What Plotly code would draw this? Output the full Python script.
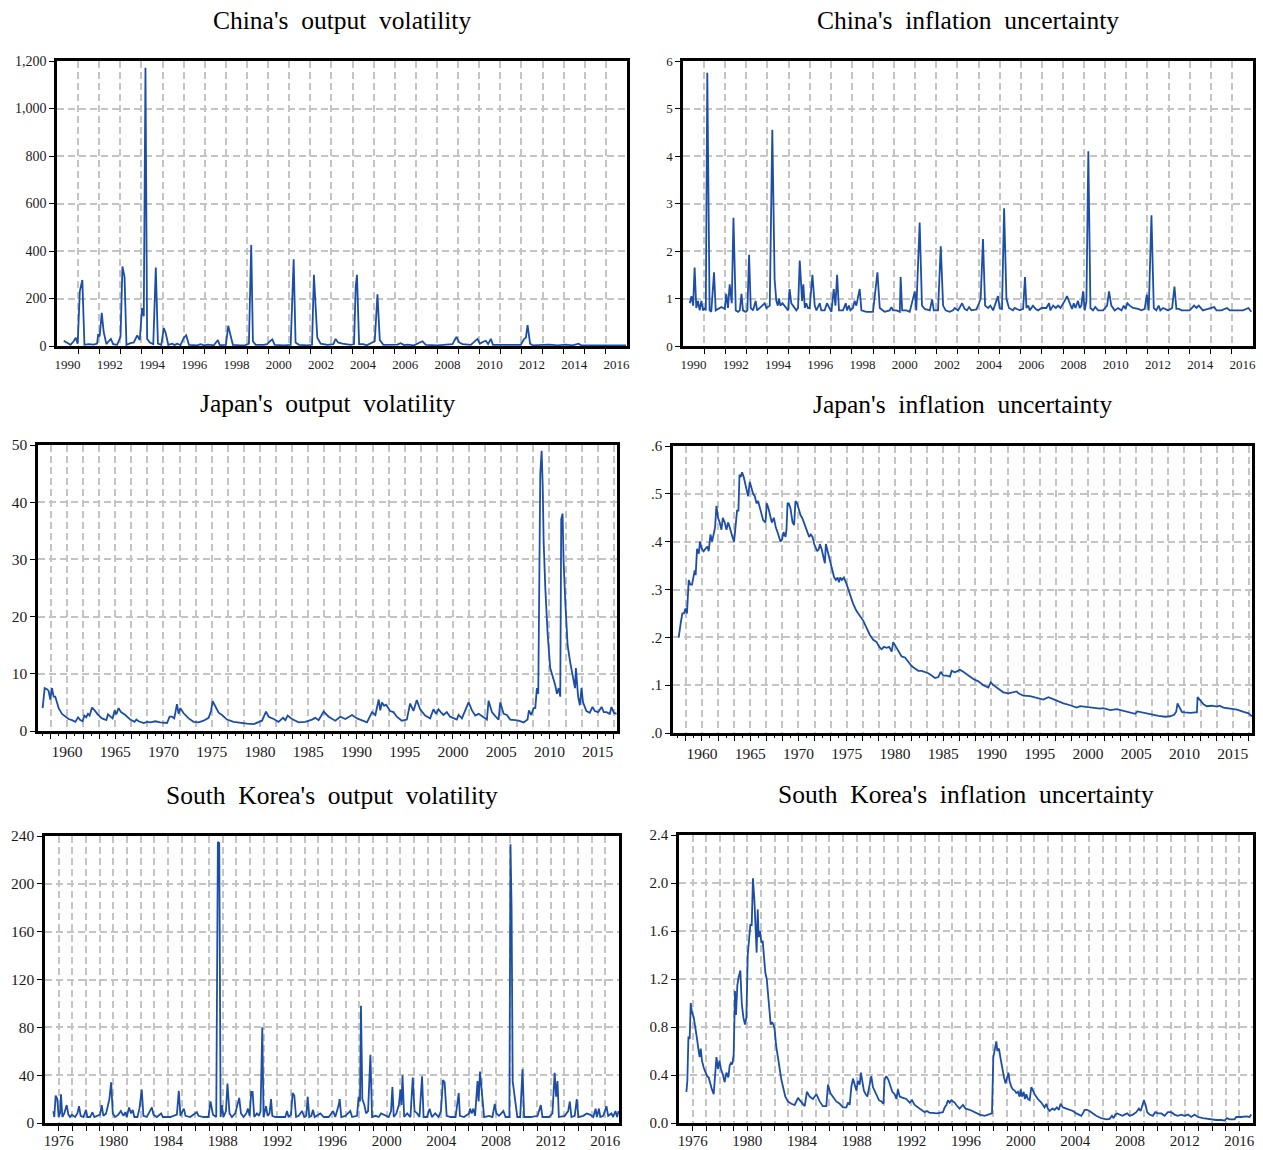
import plotly.graph_objects as go

# ---------------- data (decimal years) ----------------
china_out_year = [
    1990.32, 1990.48, 1990.64, 1990.79, 1990.89, 1990.98, 1991.08, 1991.20, 1991.30, 1991.50,
    1991.74, 1991.90, 1991.95, 1992.02, 1992.12, 1992.21, 1992.34, 1992.45, 1992.55, 1992.66,
    1992.85, 1993.01, 1993.10, 1993.20, 1993.29, 1993.48, 1993.64, 1993.80, 1993.92, 1994.03,
    1994.11, 1994.19, 1994.27, 1994.40, 1994.56, 1994.68, 1994.78, 1994.94, 1995.06, 1995.15,
    1995.27, 1995.46, 1995.57, 1995.69, 1995.85, 1996.01, 1996.12, 1996.25, 1996.64, 1996.80,
    1996.96, 1997.15, 1997.43, 1997.62, 1997.71, 1998.00, 1998.11, 1998.22, 1998.33, 1998.70,
    1998.93, 1999.09, 1999.20, 1999.28, 1999.41, 1999.80, 1999.96, 2000.09, 2000.20, 2000.31,
    2000.75, 2001.07, 2001.15, 2001.21, 2001.30, 2001.46, 2001.86, 2002.08, 2002.17, 2002.33,
    2002.49, 2002.81, 2003.09, 2003.20, 2003.31, 2003.52, 2003.91, 2004.07, 2004.15, 2004.21,
    2004.31, 2004.51, 2004.67, 2005.05, 2005.18, 2005.29, 2005.46, 2006.12, 2006.28, 2006.44,
    2006.60, 2006.91, 2007.31, 2007.47, 2008.02, 2008.73, 2008.92, 2009.05, 2009.21, 2009.60,
    2009.92, 2010.03, 2010.19, 2010.31, 2010.42, 2010.55, 2010.65, 2011.50, 2011.97, 2012.13,
    2012.21, 2012.29, 2012.41, 2012.53, 2013.32, 2013.71, 2014.11, 2014.42, 2014.71, 2014.82,
    2015.61, 2016.24, 2016.95]
china_out_val = [
    22, 12, 5, 20, 35, 10, 230, 278, 5, 8,
    6, 10, 50, 40, 140, 60, 8, 20, 30, 8,
    5, 40, 335, 290, 5, 12, 15, 45, 25, 160,
    125, 1172, 30, 15, 8, 330, 10, 5, 75, 55,
    5, 10, 4, 10, 4, 35, 45, 5, 3, 8,
    3, 6, 3, 25, 4, 5, 85, 45, 5, 3,
    4, 10, 425, 20, 5, 5, 8, 20, 28, 5,
    3, 5, 200, 365, 15, 5, 3, 5, 300, 35,
    10, 5, 8, 30, 15, 10, 5, 8, 250, 300,
    8, 8, 3, 20, 218, 25, 5, 6, 12, 4,
    6, 3, 20, 5, 3, 8, 38, 15, 8, 5,
    30, 10, 18, 22, 8, 30, 5, 3, 5, 30,
    35, 88, 10, 3, 6, 3, 6, 3, 10, 3,
    3, 4, 2]

china_inf_year = [
    1990.32, 1990.40, 1990.48, 1990.55, 1990.63, 1990.71, 1990.79, 1990.87, 1990.95, 1991.03,
    1991.08, 1991.15, 1991.26, 1991.34, 1991.47, 1991.55, 1991.82, 1991.98, 1992.05, 1992.13,
    1992.21, 1992.31, 1992.39, 1992.50, 1992.61, 1992.69, 1992.77, 1992.84, 1992.97, 1993.05,
    1993.13, 1993.21, 1993.32, 1993.44, 1993.51, 1993.63, 1993.76, 1993.87, 1993.95, 1994.11,
    1994.23, 1994.34, 1994.42, 1994.49, 1994.55, 1994.61, 1994.71, 1994.79, 1994.90, 1994.98,
    1995.05, 1995.13, 1995.21, 1995.29, 1995.37, 1995.45, 1995.53, 1995.64, 1995.70, 1995.77,
    1995.84, 1995.92, 1996.00, 1996.13, 1996.24, 1996.32, 1996.48, 1996.55, 1996.71, 1996.82,
    1996.95, 1997.03, 1997.14, 1997.22, 1997.30, 1997.39, 1997.58, 1997.71, 1997.77, 1997.86,
    1997.93, 1998.05, 1998.13, 1998.21, 1998.37, 1998.45, 1998.69, 1999.00, 1999.21, 1999.32,
    1999.55, 1999.79, 1999.87, 1999.95, 2000.11, 2000.27, 2000.31, 2000.38, 2000.58, 2000.74,
    2000.98, 2001.05, 2001.21, 2001.32, 2001.45, 2001.61, 2001.69, 2001.80, 2001.88, 2002.08,
    2002.21, 2002.32, 2002.44, 2002.63, 2002.79, 2002.87, 2003.03, 2003.22, 2003.34, 2003.45,
    2003.55, 2003.66, 2003.90, 2004.02, 2004.10, 2004.21, 2004.31, 2004.45, 2004.56, 2004.69,
    2004.84, 2004.92, 2005.00, 2005.11, 2005.21, 2005.32, 2005.44, 2005.63, 2005.71, 2005.95,
    2006.11, 2006.20, 2006.27, 2006.36, 2006.42, 2006.58, 2006.71, 2006.82, 2006.98, 2007.21,
    2007.34, 2007.40, 2007.53, 2007.66, 2007.77, 2007.88, 2008.08, 2008.19, 2008.32, 2008.43,
    2008.51, 2008.59, 2008.71, 2008.79, 2008.87, 2008.95, 2009.03, 2009.11, 2009.20, 2009.30,
    2009.42, 2009.53, 2009.66, 2009.90, 2010.09, 2010.18, 2010.29, 2010.45, 2010.61, 2010.77,
    2010.88, 2010.96, 2011.05, 2011.16, 2011.32, 2011.56, 2011.71, 2011.87, 2011.97, 2012.06,
    2012.19, 2012.30, 2012.42, 2012.53, 2012.61, 2012.74, 2012.98, 2013.17, 2013.28, 2013.37,
    2013.50, 2013.61, 2013.85, 2014.00, 2014.21, 2014.32, 2014.43, 2014.52, 2014.63, 2014.87,
    2015.16, 2015.27, 2015.50, 2015.77, 2015.90, 2016.06, 2016.29, 2016.53, 2016.78, 2016.92]
china_inf_val = [
    0.9, 1.05, 0.85, 1.65, 0.8, 0.95, 0.75, 0.95, 0.75, 0.8,
    0.75, 5.75, 0.75, 0.72, 1.55, 0.75, 0.82, 0.78, 1.1, 0.8,
    1.3, 0.9, 2.7, 0.75, 0.72, 0.75, 1.1, 0.75, 0.72, 0.75,
    1.92, 0.8, 0.75, 0.95, 0.75, 0.8, 0.85, 0.9, 0.8, 0.85,
    4.55, 1.4, 0.95, 0.85, 1.0, 0.85, 0.9, 0.85, 0.8, 0.75,
    1.2, 0.9, 0.85, 0.8, 0.75, 0.8, 1.8, 0.95, 1.3, 0.8,
    0.9, 0.8, 0.8, 1.5, 0.85, 0.75, 0.9, 0.75, 0.75, 0.9,
    0.8, 0.72, 1.2, 0.85, 1.5, 0.75, 0.75, 0.9, 0.75, 0.85,
    0.75, 0.8, 0.95, 0.85, 1.2, 0.75, 0.72, 0.72, 1.55, 0.8,
    0.72, 0.75, 0.82, 0.75, 0.75, 0.72, 1.45, 0.75, 0.75, 0.72,
    1.15, 0.75, 2.6, 0.85, 0.78, 0.75, 0.75, 0.98, 0.75, 0.75,
    2.1, 0.85, 0.75, 0.72, 0.75, 0.8, 0.75, 0.9, 0.78, 0.75,
    0.82, 0.75, 0.77, 0.9, 1.0, 2.25, 0.85, 0.8, 0.85, 0.75,
    0.95, 1.05, 0.8, 0.78, 2.9, 1.0, 0.8, 0.75, 0.8, 0.75,
    0.78, 1.45, 0.8, 0.85, 0.75, 0.85, 0.78, 0.75, 0.8, 0.8,
    0.9, 0.75, 0.85, 0.8, 0.85, 0.8, 0.95, 1.05, 0.9, 0.78,
    0.9, 0.8, 0.95, 0.8, 0.85, 1.15, 0.75, 0.95, 4.1, 0.8,
    0.75, 0.82, 0.75, 0.75, 0.85, 1.15, 0.85, 0.75, 0.8, 0.75,
    0.85, 0.78, 0.9, 0.85, 0.8, 0.78, 0.75, 0.78, 1.08, 0.75,
    2.75, 0.8, 0.75, 0.85, 0.75, 0.8, 0.75, 0.8, 1.25, 0.78,
    0.78, 0.75, 0.75, 0.75, 0.85, 0.8, 0.85, 0.8, 0.75, 0.78,
    0.82, 0.75, 0.75, 0.8, 0.75, 0.75, 0.75, 0.75, 0.8, 0.72]

japan_out_year = [
    1957.48, 1957.69, 1957.93, 1958.10, 1958.27, 1958.45, 1958.62, 1958.79, 1958.97, 1959.14,
    1959.49, 1959.83, 1960.17, 1960.52, 1960.87, 1961.15, 1961.38, 1961.62, 1961.80, 1962.00,
    1962.18, 1962.35, 1962.60, 1962.87, 1963.18, 1963.63, 1964.08, 1964.25, 1964.49, 1964.73,
    1964.94, 1965.11, 1965.35, 1965.60, 1966.05, 1966.56, 1967.01, 1967.19, 1967.43, 1967.95,
    1968.30, 1968.64, 1969.16, 1969.67, 1970.37, 1970.64, 1970.89, 1971.12, 1971.40, 1971.57,
    1971.75, 1972.09, 1972.61, 1973.12, 1973.64, 1974.16, 1974.68, 1974.93, 1975.10, 1975.37,
    1975.72, 1976.07, 1976.59, 1977.27, 1977.96, 1978.66, 1979.34, 1979.69, 1980.21, 1980.63,
    1980.90, 1981.42, 1981.93, 1982.39, 1982.63, 1982.87, 1983.32, 1984.01, 1984.70, 1985.39,
    1985.74, 1986.08, 1986.60, 1987.12, 1987.81, 1988.33, 1988.85, 1989.54, 1990.06, 1991.09,
    1991.44, 1991.61, 1991.96, 1992.31, 1992.47, 1992.64, 1992.87, 1993.08, 1993.49, 1993.84,
    1994.18, 1994.70, 1995.22, 1995.56, 1995.91, 1996.25, 1996.60, 1997.12, 1997.64, 1997.98,
    1998.25, 1998.50, 1998.74, 1999.02, 1999.36, 1999.71, 2000.40, 2000.58, 2000.93, 2001.17,
    2001.62, 2001.97, 2002.31, 2002.66, 2003.18, 2003.52, 2003.69, 2004.04, 2004.38, 2004.73,
    2004.90, 2005.25, 2005.59, 2005.93, 2006.45, 2006.80, 2007.32, 2007.73, 2007.87, 2008.11,
    2008.36, 2008.53, 2008.70, 2008.84, 2009.05, 2009.19, 2009.30, 2009.40, 2009.57, 2009.81,
    2010.08, 2010.36, 2010.60, 2010.78, 2010.96, 2011.12, 2011.22, 2011.36, 2011.46, 2011.63,
    2011.88, 2012.15, 2012.33, 2012.50, 2012.65, 2012.74, 2012.85, 2012.97, 2013.15, 2013.32,
    2013.48, 2013.83, 2014.18, 2014.46, 2014.70, 2015.05, 2015.40, 2015.63, 2015.91, 2016.25,
    2016.43, 2016.67, 2016.95]
japan_out_val = [
    4.0, 7.5, 7.3, 7.0, 5.5, 7.5, 6.0, 6.0, 5.0, 4.0,
    3.0, 2.6, 2.1, 1.9, 1.6, 2.4, 1.9, 1.7, 2.7, 2.4,
    3.0, 2.7, 4.1, 3.6, 2.9, 2.2, 1.9, 2.9, 2.5, 2.2,
    3.6, 2.9, 4.0, 3.3, 2.8, 2.0, 1.6, 2.0, 1.7, 1.4,
    1.6, 1.5, 1.7, 1.5, 1.4, 2.5, 2.5, 2.2, 4.7, 3.0,
    4.0, 3.1, 2.2, 1.6, 1.5, 1.8, 2.3, 3.5, 5.2, 4.2,
    3.2, 2.8, 2.0, 1.6, 1.4, 1.3, 1.2, 1.5, 1.8, 3.4,
    2.5, 2.1, 1.6, 2.3, 1.9, 2.7, 2.1, 1.5, 1.6, 2.0,
    2.3, 1.9, 3.4, 2.5, 1.8, 2.5, 2.1, 2.8, 2.2, 1.5,
    2.6, 3.3, 2.8, 5.5, 3.6, 5.0, 4.4, 4.6, 3.5, 3.3,
    2.5, 1.8, 2.0, 4.8, 3.5, 5.4, 3.8, 2.7, 2.2, 3.8,
    3.0, 3.8, 3.3, 2.8, 3.3, 2.5, 2.0, 2.8, 2.2, 3.2,
    5.0, 3.6, 2.7, 3.0, 2.4, 2.0, 5.3, 3.3, 2.6, 2.0,
    5.0, 3.0, 2.8, 2.0, 1.9, 1.8, 1.5, 2.0, 3.6, 2.8,
    4.0, 4.0, 7.5, 6.5, 45, 49, 43, 33, 25, 17,
    11, 9.5, 8, 6.5, 7.5, 6, 37, 38, 30, 23,
    15, 12, 10.5, 8.5, 7.5, 11, 8, 6, 4.5, 7.5,
    5, 3.5, 3.2, 4.2, 3.5, 3.3, 4.2, 3.3, 3.3, 3.0,
    4.2, 3.2, 3.0]

japan_inf_year = [
    1957.59, 1957.69, 1957.80, 1957.97, 1958.14, 1958.29, 1958.45, 1958.63, 1958.80, 1958.97,
    1959.15, 1959.25, 1959.35, 1959.49, 1959.67, 1959.80, 1959.98, 1960.18, 1960.36, 1960.56,
    1960.70, 1960.88, 1961.05, 1961.22, 1961.36, 1961.50, 1961.67, 1961.84, 1962.02, 1962.16,
    1962.36, 1962.54, 1962.71, 1962.81, 1962.99, 1963.16, 1963.33, 1963.47, 1963.64, 1963.78,
    1963.89, 1964.02, 1964.16, 1964.33, 1964.47, 1964.62, 1964.78, 1964.96, 1965.13, 1965.30,
    1965.48, 1965.65, 1965.82, 1965.99, 1966.17, 1966.34, 1966.58, 1966.72, 1966.89, 1967.06,
    1967.24, 1967.45, 1967.65, 1967.83, 1968.00, 1968.14, 1968.31, 1968.45, 1968.66, 1968.76,
    1968.87, 1969.00, 1969.17, 1969.39, 1969.55, 1969.69, 1969.86, 1970.04, 1970.22, 1970.38,
    1970.56, 1970.73, 1970.94, 1971.11, 1971.28, 1971.46, 1971.63, 1971.81, 1971.94, 1972.12,
    1972.22, 1972.39, 1972.56, 1972.74, 1972.84, 1973.01, 1973.18, 1973.36, 1973.53, 1973.70,
    1973.88, 1974.05, 1974.20, 1974.33, 1974.50, 1974.71, 1974.92, 1975.15, 1975.40, 1975.67,
    1976.02, 1976.37, 1976.71, 1977.06, 1977.40, 1977.75, 1978.10, 1978.37, 1978.62, 1978.86,
    1979.14, 1979.41, 1979.66, 1979.82, 1980.10, 1980.34, 1980.69, 1981.04, 1981.38, 1981.73,
    1982.07, 1982.42, 1982.77, 1983.11, 1983.45, 1983.80, 1984.15, 1984.49, 1984.74, 1985.01,
    1985.36, 1985.70, 1985.88, 1986.22, 1986.56, 1986.74, 1987.08, 1987.60, 1988.12, 1988.64,
    1989.16, 1989.68, 1989.92, 1990.20, 1990.71, 1991.23, 1991.75, 1992.27, 1992.61, 1992.79,
    1993.31, 1994.00, 1994.69, 1995.38, 1995.90, 1996.24, 1996.76, 1997.46, 1998.15, 1998.84,
    1999.19, 1999.87, 2000.57, 2001.26, 2001.61, 2002.30, 2002.99, 2003.68, 2004.37, 2004.89,
    2005.13, 2005.58, 2006.10, 2006.62, 2007.31, 2008.01, 2008.52, 2008.94, 2009.15, 2009.28,
    2009.49, 2009.73, 2010.08, 2010.60, 2011.12, 2011.29, 2011.36, 2011.64, 2011.98, 2012.32,
    2012.84, 2013.36, 2013.64, 2014.05, 2014.75, 2015.44, 2016.13, 2016.65, 2016.99]
japan_inf_val = [
    0.20, 0.22, 0.23, 0.25, 0.25, 0.26, 0.25, 0.32, 0.31, 0.31,
    0.33, 0.34, 0.33, 0.385, 0.375, 0.40, 0.385, 0.38, 0.385, 0.39,
    0.38, 0.415, 0.40, 0.42, 0.43, 0.475, 0.45, 0.44, 0.425, 0.45,
    0.44, 0.425, 0.44, 0.435, 0.42, 0.41, 0.40, 0.425, 0.465, 0.465,
    0.54, 0.535, 0.545, 0.535, 0.52, 0.51, 0.495, 0.525, 0.51, 0.50,
    0.495, 0.48, 0.485, 0.47, 0.455, 0.445, 0.44, 0.48, 0.47, 0.455,
    0.44, 0.45, 0.43, 0.42, 0.41, 0.40, 0.405, 0.42, 0.41, 0.425,
    0.48, 0.48, 0.47, 0.44, 0.435, 0.485, 0.48, 0.465, 0.455, 0.45,
    0.44, 0.43, 0.42, 0.41, 0.415, 0.41, 0.395, 0.385, 0.38, 0.385,
    0.395, 0.385, 0.37, 0.355, 0.395, 0.38, 0.37, 0.35, 0.335, 0.325,
    0.32, 0.325, 0.315, 0.325, 0.32, 0.325, 0.315, 0.30, 0.285, 0.27,
    0.255, 0.245, 0.235, 0.22, 0.205, 0.195, 0.19, 0.18, 0.175, 0.18,
    0.178, 0.18, 0.17, 0.19, 0.18, 0.17, 0.16, 0.158, 0.15, 0.14,
    0.135, 0.13, 0.13, 0.128, 0.125, 0.12, 0.115, 0.117, 0.128, 0.12,
    0.12, 0.118, 0.13, 0.127, 0.13, 0.132, 0.128, 0.12, 0.113, 0.108,
    0.10, 0.095, 0.106, 0.10, 0.092, 0.085, 0.083, 0.085, 0.087, 0.083,
    0.078, 0.077, 0.073, 0.07, 0.075, 0.072, 0.067, 0.062, 0.058, 0.053,
    0.056, 0.054, 0.052, 0.051, 0.052, 0.048, 0.050, 0.046, 0.043, 0.040,
    0.045, 0.043, 0.041, 0.038, 0.036, 0.034, 0.035, 0.038, 0.045, 0.062,
    0.052, 0.044, 0.043, 0.042, 0.043, 0.043, 0.075, 0.068, 0.060, 0.056,
    0.057, 0.055, 0.057, 0.053, 0.051, 0.049, 0.044, 0.041, 0.035]

korea_out_year = [
    1975.61, 1975.68, 1975.78, 1975.90, 1976.00, 1976.10, 1976.17, 1976.27, 1976.41, 1976.59,
    1976.71, 1976.83, 1976.96, 1977.20, 1977.37, 1977.49, 1977.61, 1977.81, 1978.00, 1978.10,
    1978.30, 1978.47, 1978.61, 1978.90, 1979.03, 1979.15, 1979.27, 1979.47, 1979.64, 1979.71,
    1979.84, 1979.96, 1980.13, 1980.37, 1980.55, 1980.74, 1980.88, 1980.98, 1981.15, 1981.30,
    1981.42, 1981.54, 1981.76, 1981.91, 1982.08, 1982.20, 1982.45, 1982.69, 1982.82, 1982.94,
    1983.18, 1983.50, 1983.62, 1984.16, 1984.65, 1984.79, 1984.91, 1985.06, 1985.16, 1985.28,
    1985.62, 1986.11, 1986.23, 1986.60, 1986.96, 1987.11, 1987.29, 1987.53, 1987.65, 1987.75,
    1987.85, 1987.94, 1988.06, 1988.24, 1988.35, 1988.50, 1988.68, 1988.92, 1989.12, 1989.21,
    1989.34, 1989.53, 1989.73, 1989.85, 1989.97, 1990.09, 1990.19, 1990.31, 1990.51, 1990.66,
    1990.77, 1990.90, 1990.99, 1991.17, 1991.29, 1991.43, 1991.54, 1991.63, 1991.85, 1992.22,
    1992.58, 1992.71, 1992.82, 1993.00, 1993.12, 1993.24, 1993.37, 1993.56, 1993.81, 1993.97,
    1994.12, 1994.22, 1994.34, 1994.49, 1994.61, 1994.73, 1995.02, 1995.15, 1995.39, 1995.76,
    1996.08, 1996.24, 1996.49, 1996.56, 1996.68, 1996.98, 1997.34, 1997.47, 1997.83, 1997.95,
    1998.05, 1998.12, 1998.22, 1998.37, 1998.49, 1998.64, 1998.81, 1998.93, 1999.18, 1999.42,
    1999.59, 1999.79, 2000.15, 2000.32, 2000.42, 2000.52, 2000.71, 2000.89, 2001.01, 2001.08,
    2001.16, 2001.28, 2001.50, 2001.74, 2001.91, 2002.04, 2002.23, 2002.40, 2002.59, 2002.70,
    2002.95, 2003.14, 2003.31, 2003.55, 2003.80, 2003.97, 2004.12, 2004.24, 2004.39, 2004.68,
    2005.04, 2005.27, 2005.36, 2005.66, 2006.03, 2006.10, 2006.22, 2006.34, 2006.47, 2006.65,
    2006.73, 2006.83, 2006.93, 2007.03, 2007.13, 2007.49, 2007.74, 2007.91, 2008.03, 2008.22,
    2008.54, 2008.70, 2008.98, 2009.06, 2009.14, 2009.22, 2009.30, 2009.38, 2009.46, 2009.56,
    2009.77, 2009.94, 2010.06, 2010.55, 2011.04, 2011.28, 2011.40, 2011.88, 2012.13, 2012.29,
    2012.40, 2012.50, 2012.60, 2013.03, 2013.28, 2013.40, 2013.52, 2013.76, 2013.91, 2014.03,
    2014.39, 2014.63, 2014.87, 2015.12, 2015.29, 2015.38, 2015.53, 2015.63, 2015.85, 2016.08,
    2016.21, 2016.45, 2016.57, 2016.74, 2016.86, 2016.97]
korea_out_val = [
    10, 5, 23, 20, 5, 8, 24, 5, 8, 15,
    7, 5, 7, 5, 8, 14, 6, 5, 11, 5,
    5, 9, 5, 6, 7, 15, 6, 8, 15, 20,
    34, 8, 5, 7, 10, 6, 9, 5, 13, 8,
    11, 5, 5, 12, 28, 6, 5, 10, 13, 7,
    5, 8, 5, 5, 7, 27, 6, 10, 12, 6,
    5, 9, 6, 5, 5, 18, 7, 5, 235, 234,
    5, 15, 5, 10, 33, 8, 5, 8, 16, 21,
    8, 5, 8, 12, 6, 26, 26, 5, 8, 6,
    10, 80, 5, 14, 6, 8, 20, 6, 5, 5,
    5, 10, 5, 7, 25, 23, 5, 6, 10, 5,
    6, 22, 5, 6, 11, 5, 7, 8, 5, 5,
    10, 5, 15, 20, 5, 6, 10, 5, 6, 22,
    18, 98, 20, 15, 8, 10, 57, 5, 6, 5,
    8, 7, 5, 10, 30, 5, 8, 15, 28, 15,
    40, 5, 8, 5, 38, 10, 8, 5, 39, 5,
    5, 12, 5, 8, 5, 10, 36, 34, 6, 5,
    5, 25, 6, 5, 8, 12, 8, 12, 6, 35,
    18, 43, 30, 15, 5, 6, 5, 16, 8, 6,
    10, 5, 5, 233, 180, 35, 28, 20, 10, 5,
    5, 45, 5, 5, 6, 15, 5, 5, 8, 42,
    22, 35, 5, 6, 10, 18, 5, 6, 20, 5,
    6, 8, 7, 5, 12, 5, 12, 5, 6, 14,
    6, 8, 5, 10, 5, 10]

korea_inf_year = [
    1975.54, 1975.61, 1975.69, 1975.78, 1975.86, 1975.95, 1976.08, 1976.20, 1976.32, 1976.44,
    1976.51, 1976.59, 1976.68, 1976.81, 1976.93, 1977.05, 1977.17, 1977.30, 1977.41, 1977.54,
    1977.63, 1977.74, 1977.85, 1977.96, 1978.07, 1978.22, 1978.34, 1978.47, 1978.61, 1978.71,
    1978.80, 1978.90, 1979.00, 1979.10, 1979.17, 1979.27, 1979.37, 1979.49, 1979.59, 1979.71,
    1979.83, 1979.93, 1980.03, 1980.12, 1980.22, 1980.32, 1980.41, 1980.52, 1980.61, 1980.68,
    1980.76, 1980.83, 1980.93, 1981.03, 1981.12, 1981.22, 1981.32, 1981.42, 1981.51, 1981.61,
    1981.71, 1981.81, 1981.91, 1982.00, 1982.10, 1982.24, 1982.37, 1982.49, 1982.61, 1982.78,
    1982.97, 1983.22, 1983.46, 1983.59, 1983.71, 1983.83, 1984.03, 1984.20, 1984.36, 1984.56,
    1984.80, 1985.05, 1985.29, 1985.53, 1985.78, 1985.90, 1986.07, 1986.27, 1986.51, 1986.76,
    1987.00, 1987.25, 1987.36, 1987.49, 1987.61, 1987.73, 1987.85, 1987.98, 1988.09, 1988.22,
    1988.31, 1988.42, 1988.53, 1988.66, 1988.78, 1988.95, 1989.07, 1989.19, 1989.34, 1989.48,
    1989.63, 1989.81, 1989.96, 1990.04, 1990.17, 1990.32, 1990.46, 1990.61, 1990.78, 1990.91,
    1991.02, 1991.15, 1991.39, 1991.63, 1991.88, 1992.05, 1992.24, 1992.48, 1992.73, 1992.97,
    1993.14, 1993.34, 1993.58, 1993.83, 1994.07, 1994.31, 1994.44, 1994.56, 1994.68, 1994.80,
    1994.93, 1995.17, 1995.29, 1995.53, 1995.78, 1995.97, 1996.27, 1996.63, 1997.00, 1997.36,
    1997.73, 1997.90, 1998.00, 1998.09, 1998.22, 1998.29, 1998.41, 1998.51, 1998.66, 1998.78,
    1998.90, 1999.00, 1999.10, 1999.19, 1999.32, 1999.43, 1999.56, 1999.68, 1999.80, 1999.92,
    2000.00, 2000.09, 2000.22, 2000.31, 2000.41, 2000.53, 2000.66, 2000.78, 2000.90, 2001.02,
    2001.26, 2001.51, 2001.75, 2001.88, 2001.99, 2002.12, 2002.32, 2002.48, 2002.65, 2002.80,
    2002.92, 2003.09, 2003.34, 2003.58, 2003.82, 2004.07, 2004.31, 2004.44, 2004.55, 2004.68,
    2004.85, 2005.04, 2005.29, 2005.53, 2005.90, 2006.26, 2006.51, 2006.68, 2006.80, 2006.92,
    2007.07, 2007.24, 2007.44, 2007.60, 2007.80, 2007.97, 2008.21, 2008.46, 2008.65, 2008.78,
    2008.90, 2009.02, 2009.14, 2009.26, 2009.43, 2009.67, 2009.85, 2010.04, 2010.29, 2010.53,
    2010.77, 2011.02, 2011.26, 2011.50, 2011.75, 2011.99, 2012.24, 2012.48, 2012.72, 2012.97,
    2013.33, 2013.82, 2014.31, 2014.68, 2014.92, 2015.09, 2015.29, 2015.65, 2015.78, 2016.14,
    2016.51, 2016.75, 2016.87]
korea_inf_val = [
    0.26, 0.35, 0.72, 0.70, 1.0, 0.92, 0.88, 0.80, 0.70, 0.60,
    0.55, 0.62, 0.52, 0.46, 0.42, 0.39, 0.38, 0.32, 0.28, 0.24,
    0.35, 0.55, 0.45, 0.52, 0.45, 0.40, 0.34, 0.42, 0.38, 0.48,
    0.50, 0.49, 0.57, 1.10, 0.90, 1.15, 1.22, 1.27, 1.0, 0.88,
    0.82, 0.88, 1.40, 1.50, 1.65, 1.65, 2.04, 1.85, 1.65, 1.42,
    1.78, 1.55, 1.60, 1.50, 1.52, 1.35, 1.25, 1.20, 1.05, 0.95,
    0.82, 0.84, 0.82, 0.78, 0.65, 0.52, 0.45, 0.36, 0.30, 0.22,
    0.18, 0.16, 0.15, 0.18, 0.21, 0.19, 0.16, 0.14, 0.26, 0.22,
    0.20, 0.24, 0.18, 0.14, 0.14, 0.32, 0.25, 0.22, 0.18, 0.16,
    0.13, 0.13, 0.17, 0.15, 0.30, 0.37, 0.32, 0.27, 0.35, 0.32,
    0.42, 0.33, 0.27, 0.24, 0.22, 0.32, 0.39, 0.30, 0.26, 0.22,
    0.19, 0.18, 0.16, 0.36, 0.39, 0.36, 0.30, 0.26, 0.24, 0.20,
    0.28, 0.22, 0.21, 0.20, 0.17, 0.19, 0.15, 0.13, 0.11, 0.09,
    0.10, 0.085, 0.085, 0.08, 0.085, 0.09, 0.13, 0.15, 0.19, 0.17,
    0.19, 0.17, 0.15, 0.12, 0.15, 0.12, 0.11, 0.09, 0.07, 0.06,
    0.07, 0.08, 0.55, 0.62, 0.68, 0.60, 0.62, 0.55, 0.45, 0.38,
    0.33, 0.38, 0.42, 0.35, 0.30, 0.28, 0.27, 0.25, 0.26, 0.22,
    0.28, 0.22, 0.26, 0.20, 0.24, 0.20, 0.19, 0.30, 0.27, 0.24,
    0.20, 0.17, 0.13, 0.16, 0.12, 0.10, 0.12, 0.11, 0.13, 0.11,
    0.16, 0.13, 0.12, 0.11, 0.10, 0.08, 0.07, 0.06, 0.08, 0.11,
    0.11, 0.10, 0.08, 0.06, 0.04, 0.03, 0.035, 0.06, 0.04, 0.07,
    0.08, 0.07, 0.06, 0.07, 0.08, 0.06, 0.07, 0.09, 0.12, 0.10,
    0.14, 0.19, 0.15, 0.09, 0.07, 0.06, 0.09, 0.08, 0.08, 0.06,
    0.09, 0.09, 0.07, 0.06, 0.07, 0.06, 0.07, 0.05, 0.07, 0.05,
    0.04, 0.03, 0.025, 0.025, 0.02, 0.04, 0.03, 0.03, 0.05, 0.05,
    0.055, 0.05, 0.07]

titles = ["China's  output  volatility", "China's  inflation  uncertainty",
          "Japan's  output  volatility", "Japan's  inflation  uncertainty",
          "South  Korea's  output  volatility", "South  Korea's  inflation  uncertainty"]

china_year_labels = list(range(1990, 2017, 2))
japan_year_labels = list(range(1960, 2016, 5))
korea_year_labels = list(range(1976, 2017, 4))

china_out_yticks = [0, 200, 400, 600, 800, 1000, 1200]
china_inf_yticks = [0, 1, 2, 3, 4, 5, 6]
japan_out_yticks = [0, 10, 20, 30, 40, 50]
japan_inf_yticks = [0.0, 0.1, 0.2, 0.3, 0.4, 0.5, 0.6]
japan_inf_ytext = [".0", ".1", ".2", ".3", ".4", ".5", ".6"]
korea_out_yticks = [0, 40, 80, 120, 160, 200, 240]
korea_inf_yticks = [0.0, 0.4, 0.8, 1.2, 1.6, 2.0, 2.4]

# ---------------- style ----------------
W, H = 1263, 1150
SERIF = "Liberation Serif, Times New Roman, serif"
LINE_COLOR = "#1d4ea6"
GRID_COLOR = "#c4c4c4"
GRID_DASH = "7px,4px"
GRID_W = 1.5
TXT = "#1a1a1a"

fig = go.Figure()

series = [(china_out_year, china_out_val), (china_inf_year, china_inf_val),
          (japan_out_year, japan_out_val), (japan_inf_year, japan_inf_val),
          (korea_out_year, korea_out_val), (korea_inf_year, korea_inf_val)]

# plot boxes in pixels: (left, right, top, bottom)
boxes = [(57, 627, 61, 346), (683, 1253, 61, 346),
         (38, 617, 445, 731), (673, 1252, 446, 733),
         (45, 619, 836, 1123), (679, 1253, 835, 1123)]

# Japan panels: dashed grid every 20 months, small ticks every 10 months
japan_grid = [1958 + 4 / 12 + k * 20 / 12 for k in range(36)]
japan_grid = [g for g in japan_grid if g < 2017]
japan_mid_ticks = [1957 + 6 / 12 + k * 20 / 12 for k in range(36)]
japan_mid_ticks = [g for g in japan_mid_ticks if g < 2017]


def grid_minor(vals):
    return dict(tickmode="array", tickvals=vals, ticks="outside",
                ticklen=5, tickwidth=1, tickcolor="black",
                showgrid=True, gridcolor=GRID_COLOR, gridwidth=GRID_W, griddash=GRID_DASH)


xcfg = []
for _ in range(2):
    xcfg.append(dict(range=[1990, 2017],
                     tickvals=[y + 0.5 for y in china_year_labels],
                     ticktext=[str(y) for y in china_year_labels],
                     tickcolor="rgba(0,0,0,0)", showgrid=False,
                     minor=grid_minor(list(range(1991, 2017))), fs=13, standoff=0))
for _ in range(2):
    xcfg.append(dict(range=[1957, 2017],
                     tickvals=japan_year_labels,
                     ticktext=[str(y) for y in japan_year_labels],
                     tickcolor="black", showgrid=True,
                     minor=grid_minor(japan_grid), fs=15.5, standoff=0))
for _ in range(2):
    xcfg.append(dict(range=[1975, 2017],
                     tickvals=korea_year_labels,
                     ticktext=[str(y) for y in korea_year_labels],
                     tickcolor="black", showgrid=True,
                     minor=grid_minor(list(range(1976, 2017))), fs=15, standoff=-3))

ycfg = [
    dict(range=[0, 1200], tickvals=china_out_yticks,
         ticktext=[f"{v:,}" for v in china_out_yticks], fs=14),
    dict(range=[0, 6], tickvals=china_inf_yticks,
         ticktext=[str(v) for v in china_inf_yticks], fs=13),
    dict(range=[0, 50], tickvals=japan_out_yticks,
         ticktext=[str(v) for v in japan_out_yticks], fs=15.5),
    dict(range=[0, 0.6], tickvals=japan_inf_yticks, ticktext=japan_inf_ytext, fs=15),
    dict(range=[0, 240], tickvals=korea_out_yticks,
         ticktext=[str(v) for v in korea_out_yticks], fs=15.5),
    dict(range=[0, 2.4], tickvals=korea_inf_yticks,
         ticktext=[f"{v:.1f}" for v in korea_inf_yticks], fs=15),
]

annotations = []
for i, ((xs, ys), box, xc, yc, title) in enumerate(zip(series, boxes, xcfg, ycfg, titles)):
    n = "" if i == 0 else str(i + 1)
    fig.add_trace(go.Scatter(x=xs, y=ys, mode="lines",
                             line=dict(color=LINE_COLOR, width=1.8),
                             xaxis="x" + n, yaxis="y" + n,
                             showlegend=False, hoverinfo="skip"))
    l, r, t, b = box
    fig.layout["xaxis" + n] = dict(
        domain=[l / W, r / W], anchor="y" + n, range=xc["range"],
        showline=True, mirror=True, linecolor="black", linewidth=2.5,
        zeroline=False, tickmode="array", tickvals=xc["tickvals"], ticktext=xc["ticktext"],
        ticks="outside", ticklen=5, tickwidth=1, tickcolor=xc["tickcolor"],
        ticklabelstandoff=xc["standoff"],
        showgrid=xc["showgrid"], gridcolor=GRID_COLOR, gridwidth=GRID_W, griddash=GRID_DASH,
        minor=xc["minor"], automargin=False,
        tickfont=dict(family=SERIF, size=xc["fs"], color=TXT), fixedrange=True)
    fig.layout["yaxis" + n] = dict(
        domain=[1 - b / H, 1 - t / H], anchor="x" + n, range=yc["range"],
        showline=True, mirror=True, linecolor="black", linewidth=2.5,
        zeroline=False, tickmode="array", tickvals=yc["tickvals"], ticktext=yc["ticktext"],
        ticks="outside", ticklen=5, tickwidth=1, tickcolor="black",
        showgrid=True, gridcolor=GRID_COLOR, gridwidth=GRID_W, griddash=GRID_DASH,
        automargin=False,
        tickfont=dict(family=SERIF, size=yc["fs"], color=TXT), fixedrange=True)
    annotations.append(dict(text=title, xref="paper", yref="paper",
                            x=(l + r) / 2 / W, y=1 - (t - 41) / H,
                            xanchor="center", yanchor="middle", showarrow=False,
                            font=dict(family=SERIF, size=25.5, color="black")))

# extra tick-only axes for the in-between ticks of the two Japan panels
for extra, base in (("7", "3"), ("8", "4")):
    fig.add_trace(go.Scatter(x=[], y=[], mode="lines", xaxis="x" + extra, yaxis="y" + base,
                             showlegend=False, hoverinfo="skip"))
    fig.layout["xaxis" + extra] = dict(
        overlaying="x" + base, anchor="y" + base, range=[1957, 2017], side="bottom",
        showline=False, showgrid=False, zeroline=False, showticklabels=False,
        tickmode="array", tickvals=japan_mid_ticks, ticks="outside", ticklen=4,
        tickwidth=1, tickcolor="black", automargin=False, fixedrange=True)

fig.update_layout(width=W, height=H,
                  margin=dict(l=0, r=0, t=0, b=0, pad=0, autoexpand=False),
                  paper_bgcolor="white", plot_bgcolor="white",
                  annotations=annotations, showlegend=False)

# page without default body margin so the 1263x1150 figure fills the window exactly
fig.write_html("out.html",
               config={"displayModeBar": False},
               post_script="document.body.style.margin='0';"
                           "document.documentElement.style.overflow='hidden';"
                           "document.body.style.overflow='hidden';")
